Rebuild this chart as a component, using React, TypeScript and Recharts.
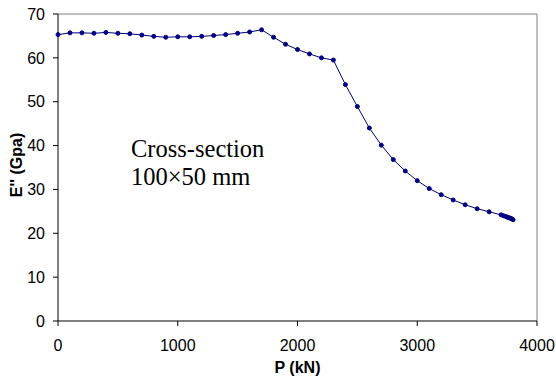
import { LineChart, Line, XAxis, YAxis, ReferenceLine, Label } from 'recharts'

const pressure = [
  0, 100, 200, 300, 400, 500, 600, 700, 800, 900,
  1000, 1100, 1200, 1300, 1400, 1500, 1600, 1700, 1800, 1900,
  2000, 2100, 2200, 2300, 2400, 2500, 2600, 2700, 2800, 2900,
  3000, 3100, 3200, 3300, 3400, 3500, 3600,
  3700, 3720, 3740, 3750, 3760, 3770, 3780, 3790, 3800,
]

const modulus = [
  65.3, 65.7, 65.7, 65.6, 65.8, 65.6, 65.5, 65.2, 64.9, 64.7,
  64.8, 64.8, 64.9, 65.1, 65.3, 65.6, 65.9, 66.4, 64.7, 63.1,
  61.9, 60.9, 60.0, 59.5, 53.9, 48.9, 44.0, 40.1, 36.8, 34.2,
  32.0, 30.2, 28.8, 27.6, 26.5, 25.6, 24.9,
  24.2, 24.0, 23.8, 23.7, 23.6, 23.5, 23.4, 23.3, 23.1,
]

const xTicks = [0, 1000, 2000, 3000, 4000]
const yTicks = [0, 10, 20, 30, 40, 50, 60, 70]

const data = pressure.map((p, i) => ({ p, e: modulus[i] }))

const NAVY = '#000080'
const sans = 'Arial, "Liberation Sans", sans-serif'
const serif = '"Times New Roman", "Liberation Serif", serif'

const tickStyle = { fill: '#000', fontSize: 16, fontFamily: sans }

export default function App() {
  return (
    <div style={{ position: 'absolute', left: 0, top: 0, width: 556, height: 378, background: '#fff' }}>
      <LineChart width={556} height={378} data={data} margin={{ top: 14, right: 19, bottom: 0, left: 0 }}>
        <ReferenceLine y={70} stroke="#808080" />
        <ReferenceLine x={4000} stroke="#808080" />
        <XAxis
          type="number"
          dataKey="p"
          domain={[0, 4000]}
          ticks={xTicks}
          height={57}
          tick={tickStyle}
          tickSize={5}
          tickMargin={14}
          axisLine={{ stroke: '#000' }}
          tickLine={{ stroke: '#000' }}
        >
          <Label
            value="P (kN)"
            position="insideBottom"
            offset={5}
            style={{ fill: '#000', fontSize: 16, fontWeight: 'bold', fontFamily: sans }}
          />
        </XAxis>
        <YAxis
          type="number"
          domain={[0, 70]}
          ticks={yTicks}
          width={58}
          tick={tickStyle}
          tickSize={5}
          tickMargin={8}
          axisLine={{ stroke: '#000' }}
          tickLine={{ stroke: '#000' }}
        >
          <Label
            content={() => (
              <text
                x={22}
                y={165}
                transform="rotate(-90 22 165)"
                textAnchor="middle"
                style={{ fill: '#000', fontSize: 16, fontWeight: 'bold', fontFamily: sans }}
              >
                E'' (Gpa)
              </text>
            )}
          />
        </YAxis>
        <Line
          type="linear"
          dataKey="e"
          stroke={NAVY}
          strokeWidth={1}
          dot={{ r: 2, fill: NAVY, stroke: NAVY, strokeWidth: 1 }}
          isAnimationActive={false}
        />
      </LineChart>
      <svg width={556} height={378} style={{ position: 'absolute', left: 0, top: 0, pointerEvents: 'none' }}>
        <text x={131} y={157} style={{ fontFamily: serif, fontSize: 24.5, fill: '#000' }}>Cross-section</text>
        <text x={131} y={185} style={{ fontFamily: serif, fontSize: 24.5, fill: '#000' }}>100×50 mm</text>
      </svg>
    </div>
  )
}
